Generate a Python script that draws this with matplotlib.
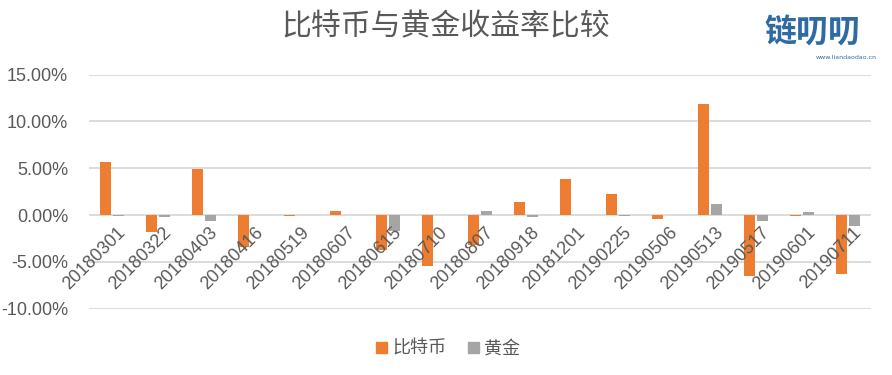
import matplotlib
matplotlib.use("Agg")
import matplotlib.pyplot as plt
from matplotlib import font_manager
from matplotlib.patches import Patch
from matplotlib.transforms import offset_copy
import numpy as np

dates = ["20180301", "20180322", "20180403", "20180416", "20180519", "20180607",
         "20180615", "20180710", "20180807", "20180918", "20181201", "20190225",
         "20190506", "20190513", "20190517", "20190601", "20190711"]
btc = [5.64, -1.82, 4.93, -3.46, -0.05, 0.40, -3.78, -5.39, -3.21, 1.36, 3.82,
       2.22, -0.46, 11.85, -6.46, -0.05, -6.32]
gold = [-0.05, -0.25, -0.67, -0.03, 0.0, 0.0, -1.75, 0.02, 0.40, -0.25, 0.0,
        -0.05, -0.03, 1.15, -0.67, 0.29, -1.18]
yticks = [-10, -5, 0, 5, 10, 15]
title = "比特币与黄金收益率比较"
series_names = ["比特币", "黄金"]

names = {f.name for f in font_manager.fontManager.ttflist}
if "Liberation Sans Narrow" in names:
    num_font, num_size = "Liberation Sans Narrow", 14
else:
    num_font, num_size = "Liberation Sans", 13
cjk = ["Noto Sans CJK SC", "DejaVu Sans"]

TXT = "#595959"
ORANGE = "#ED7D31"
GREY = "#A5A5A5"
GRID = "#D9D9D9"

fig = plt.figure(figsize=(8.92, 3.75), dpi=100)
ax = fig.add_axes([89 / 892, (375 - 308.7) / 375, (871 - 89) / 892, (308.7 - 74.7) / 375])

x = np.arange(len(dates))
w = 0.228
off = 0.141
ax.bar(x - off, btc, width=w, color=ORANGE, zorder=2)
ax.bar(x + off, gold, width=w, color=GREY, zorder=2)

ax.set_xlim(-0.5, len(dates) - 0.5)
ax.set_ylim(-10, 15)
ax.set_yticks(yticks)
ax.set_yticklabels([f"{v:.2f}%" for v in yticks], fontfamily=num_font,
                   fontsize=num_size, color=TXT)
ax.tick_params(axis="y", length=0, pad=15)
ax.set_xticks([])
ax.grid(axis="y", color=GRID, linewidth=1.3, zorder=0)
ax.set_axisbelow(True)
for s in ax.spines.values():
    s.set_visible(False)

tr = offset_copy(ax.transData, fig=fig, x=5, y=-9, units="dots")
for i, d in enumerate(dates):
    ax.text(i, 0, d, transform=tr, rotation=45, rotation_mode="anchor",
            ha="right", va="top", fontfamily=num_font, fontsize=num_size,
            color=TXT, zorder=5)

fig.text(446 / 892, 1 - 27 / 375, title, ha="center", va="center",
         family=cjk, fontsize=21.5, fontweight="light", color=TXT)

handles = [Patch(color=ORANGE), Patch(color=GREY)]
fig.legend(handles, series_names, loc="center", bbox_to_anchor=(448 / 892, 1 - 349 / 375),
           ncol=2, frameon=False, prop={"family": cjk, "size": 13},
           handlelength=0.6, handleheight=0.6, handletextpad=0.3, columnspacing=1.2,
           labelcolor=TXT)

# watermark logo
fig.text(812 / 892, 1 - 34 / 375, "链叨叨", ha="center", va="center", family=cjk,
         fontsize=23, fontweight="bold", color="#2F6AA3")
fig.text(846 / 892, 1 - 57.5 / 375, "www.liandaodao.cn", ha="center", va="center",
         family=["DejaVu Sans"], fontsize=4.5, color="#2F6AA3")

fig.savefig("out.png", dpi=100)
